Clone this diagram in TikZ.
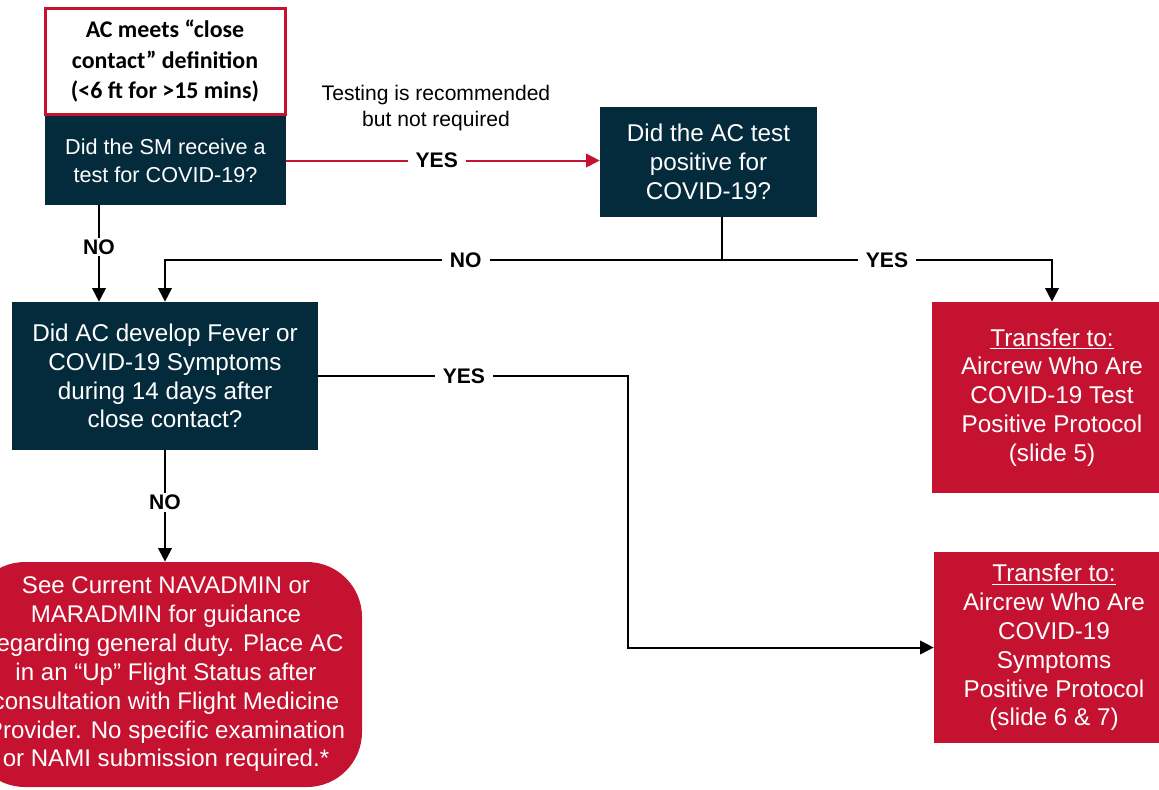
\documentclass[tikz,border=0pt]{standalone}
\usepackage{fontspec}
\setmainfont{Liberation Sans}
\newfontfamily\calibri{Carlito}
\usetikzlibrary{arrows.meta}
\definecolor{navybox}{HTML}{042B3C}
\definecolor{redbox}{HTML}{C41230}

\begin{document}
\begin{tikzpicture}[x=0.02cm, y=-0.02cm]
    % --- Dimensions ---
    \def\px{0.02cm}      % one pixel of the slide
    \def\TotalW{1159}    % Total Width
    \def\TotalH{789}     % Total Height
    \def\SplitY{260}     % Y-position of the test result branch

    % --- Styles ---
    \tikzset{
        box text/.style={
            text=white,
            inner sep=0pt,
            align=center,
            font=\fontsize{13.8}{16.4}\selectfont
        },
        navy box/.style={box text, fill=navybox},
        red box/.style={box text, fill=redbox},
        head box/.style={
            draw=redbox,
            line width=3*\px,
            fill=white,
            align=center,
            inner sep=0pt,
            font=\calibri\bfseries\fontsize{13.6}{17.2}\selectfont
        },
        link/.style={line width=2*\px},
        flow/.style={link, -{Triangle[length=0.27cm, width=0.27cm]}},
        branch label/.style={
            fill=white,
            inner xsep=8*\px,
            inner ysep=1pt,
            font=\bfseries\fontsize{12}{14}\selectfont
        },
        note text/.style={align=center, font=\fontsize{12}{14.8}\selectfont}
    }

    \useasboundingbox (0,0) rectangle (\TotalW,\TotalH);
    \clip (0,0) rectangle (\TotalW,\TotalH);

    % =========================================================
    % 1. BOXES
    % =========================================================
    \node[head box, minimum width=240*\px, minimum height=106*\px] (contact)
        at (165,61) {AC meets “close\\ contact” definition\\ (<6 ft for >15 mins)};

    \node[navy box, minimum width=241*\px, minimum height=89*\px,
          font=\fontsize{12.3}{15.9}\selectfont] (smtest)
        at (165.5,160.5) {Did the SM receive a\\ test for COVID-19?};

    \node[navy box, minimum width=217*\px, minimum height=110*\px] (actest)
        at (708.5,162) {Did the AC test\\ positive for\\ COVID-19?};

    \node[navy box, minimum width=306*\px, minimum height=148*\px] (fever)
        at (165,376) {Did AC develop Fever or\\ COVID-19 Symptoms\\ during 14 days after\\ close contact?};

    % the two transfer boxes run off the right edge of the slide
    \node[red box, minimum width=240*\px, minimum height=191*\px] (testpos)
        at (1052,397.5) {\underline{Transfer to:}\\ Aircrew Who Are\\ COVID-19 Test\\ Positive Protocol\\ (slide 5)};

    \node[red box, minimum width=240*\px, minimum height=191*\px] (symppos)
        at (1054,647.5) {\underline{Transfer to:}\\ Aircrew Who Are\\ COVID-19\\ Symptoms\\ Positive Protocol\\ (slide 6 \& 7)};

    % rounded box runs off the left edge of the slide
    \node[red box, rounded corners=55*\px, minimum width=392*\px, minimum height=225*\px,
          font=\fontsize{13.7}{16.4}\selectfont] (general)
        at (166,674.5) {See Current NAVADMIN or\\ MARADMIN for guidance\\ regarding general duty. Place AC\\ in an “Up” Flight Status after\\ consultation with Flight Medicine\\ Provider. No specific examination\\ or NAMI submission required.*};

    % =========================================================
    % 2. CONNECTORS
    % =========================================================
    \coordinate (noX) at (99,0);
    \coordinate (split) at (722,\SplitY);
    \coordinate (turnX) at (628,0);

    % Did the SM receive a test?
    \node[note text] (advice) at (436,108) {Testing is recommended\\ but not required};
    \draw[flow, redbox] (smtest.east) -- node[branch label, text=black, pos=0.48]{YES} (smtest.east -| actest.west);
    \draw[flow] (smtest.south -| noX) -- node[branch label, pos=0.43]{NO} (fever.north -| noX);

    % Did the AC test positive?
    \draw[link] (actest.south -| split) -- (split);
    \draw[flow] (split) -- node[branch label, pos=0.46]{NO} (split -| fever.north) -- (fever.north);
    \draw[flow] (split) -- node[branch label, pos=0.5]{YES} (split -| testpos.north) -- (testpos.north);

    % Fever or symptoms?
    \draw[flow] (fever.east) -- node[branch label, pos=0.47]{YES} (fever.east -| turnX) |- (symppos.west);
    \draw[flow] (fever.south) -- node[branch label, pos=0.47]{NO} (fever.south |- general.north);

\end{tikzpicture}
\end{document}
